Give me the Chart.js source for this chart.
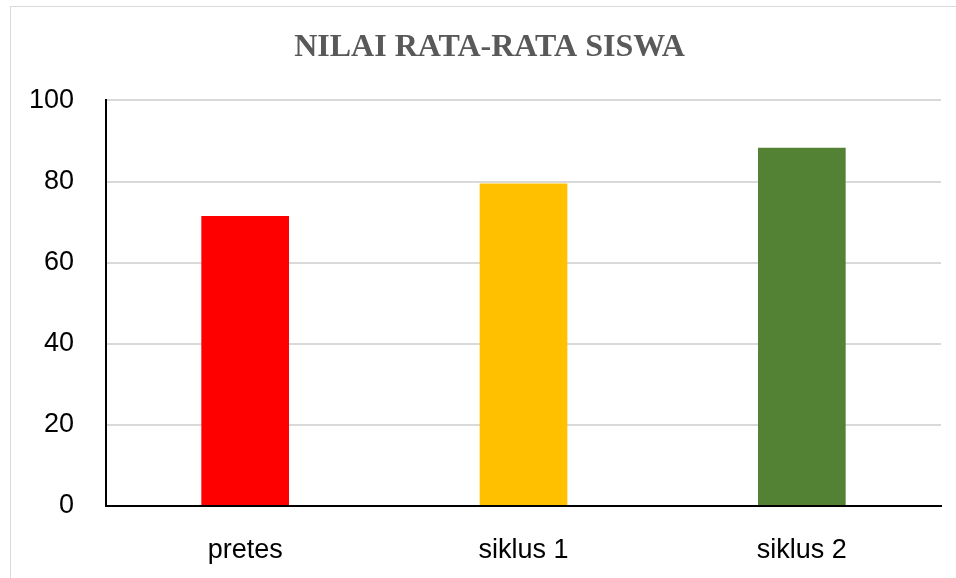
<!DOCTYPE html>
<html>
<head>
<meta charset="utf-8">
<script src="https://cdn.jsdelivr.net/npm/chart.js@4"></script>
<style>
  html, body { margin: 0; padding: 0; background: #fff; }
  #wrap { position: relative; width: 956px; height: 578px; overflow: hidden; }
  #frame { position: absolute; left: 10px; top: 6px; width: 1000px; height: 700px; border: 1px solid #d9d9d9; }
  canvas { position: absolute; left: 0; top: 0; }
</style>
</head>
<body>
<div id="wrap">
  <div id="frame"></div>
  <canvas id="chart" width="956" height="578"></canvas>
</div>
<script>
const categories = ['pretes', 'siklus 1', 'siklus 2'];
const nilai = [71.5, 79.5, 88.3];
const barColors = ['#ff0000', '#ffc000', '#548235'];
const yTicks = [0, 20, 40, 60, 80, 100];

const ctx = document.getElementById('chart').getContext('2d');

// centre the title over the plot area rather than the whole canvas
const centreTitle = {
  id: 'centreTitle',
  afterLayout(chart) {
    if (chart.titleBlock) {
      chart.titleBlock.left = 38;
      chart.titleBlock.right = 941;
    }
  }
};

const chart = new Chart(ctx, {
  type: 'bar',
  data: {
    labels: categories,
    datasets: [{
      label: 'Nilai',
      data: nilai,
      backgroundColor: barColors,
      borderWidth: 0,
      categoryPercentage: 1,
      barPercentage: 0.315
    }]
  },
  options: {
    responsive: false,
    animation: false,
    layout: { padding: { left: 0, right: 15, top: 0, bottom: 0 } },
    plugins: {
      legend: { display: false },
      tooltip: { enabled: false },
      title: {
        display: true,
        text: 'NILAI RATA-RATA SISWA',
        color: '#595959',
        font: { family: '"Liberation Serif", "Times New Roman", serif', size: 32, weight: 'bold' },
        padding: { top: 29, bottom: 33 }
      }
    },
    scales: {
      x: {
        grid: { display: false },
        border: { color: '#000', width: 2 },
        ticks: {
          color: '#000',
          padding: 20,
          font: { family: '"Liberation Sans", Arial, sans-serif', size: 27 }
        },
        afterFit(scale) { scale.height = 72; }
      },
      y: {
        min: 0,
        max: 100,
        afterBuildTicks(scale) {
          scale.ticks = yTicks.map(v => ({ value: v }));
        },
        grid: { color: '#d9d9d9', lineWidth: 2, drawTicks: false },
        border: { color: '#000', width: 2 },
        ticks: {
          color: '#000',
          padding: 32,
          font: { family: '"Liberation Sans", Arial, sans-serif', size: 27 }
        },
        afterFit(scale) { scale.width = 106; }
      }
    }
  },
  plugins: [centreTitle]
});
</script>
</body>
</html>
